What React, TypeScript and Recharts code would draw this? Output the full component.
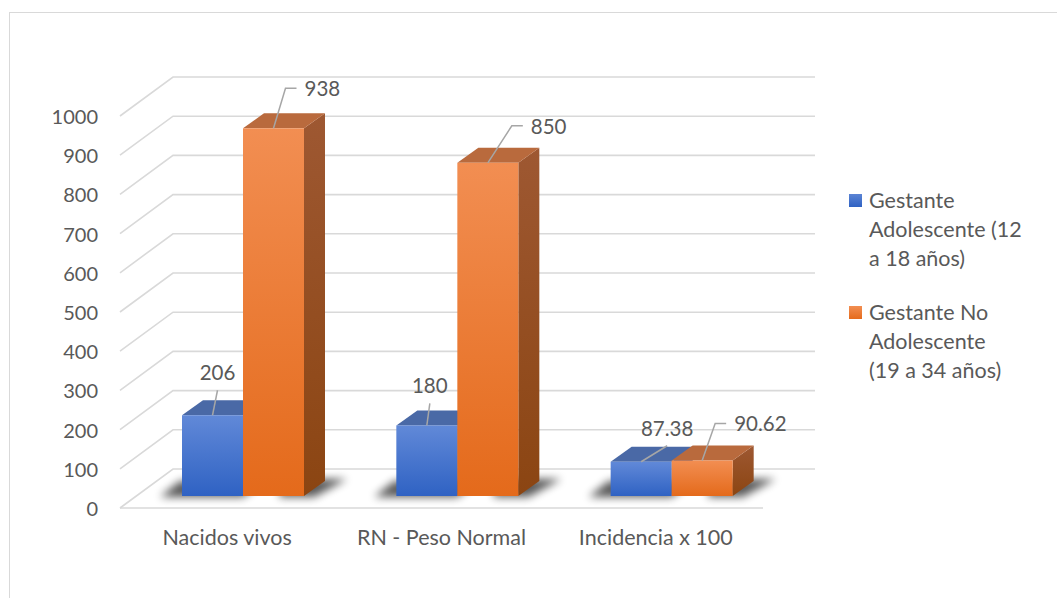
import React from "react";
import { BarChart, Bar, XAxis, YAxis, CartesianGrid, Legend, LabelList } from "recharts";

// Categories and series values
const categories = ["Nacidos vivos", "RN - Peso Normal", "Incidencia x 100"];
const adolescentes = [206, 180, 87.38];
const noAdolescentes = [938, 850, 90.62];
const yTicks = [0, 100, 200, 300, 400, 500, 600, 700, 800, 900, 1000];

const seriesNames = ["Gestante Adolescente (12 a 18 años)", "Gestante No Adolescente (19 a 34 años)"];
const legendLines = [
  ["Gestante", "Adolescente (12", "a 18 años)"],
  ["Gestante No", "Adolescente", "(19 a 34 años)"],
];

const data = categories.map((name, i) => ({
  name,
  adol: adolescentes[i],
  noAdol: noAdolescentes[i],
}));

// 3D look: bars sit a little behind the front plane, the grid wall sits at the back
const FONT = "Lato, 'Noto Sans', sans-serif";
const TEXT = "#595959";
const GRID = "#d9d9d9";
const WALL_DX = 53;
const WALL_DY = -39;
const BAR_DX = 16;
const BAR_DY = -12;
const DEPTH_DX = 21;
const DEPTH_DY = -15;

// callout placements (leader end relative to the top centre of the front face)
const blueCallouts = [
  [5, -25],
  [3, -22],
  [26, -16],
];
const orangeCallouts = [
  [12, -40],
  [24, -37],
  [13, -37],
];

type Palette = { front: string; top: string; side: string };
const BLUE: Palette = { front: "url(#gBlue)", top: "#4a69a6", side: "url(#gBlueSide)" };
const ORANGE: Palette = { front: "url(#gOrange)", top: "#b96a3d", side: "url(#gOrangeSide)" };

function makeShape(p: Palette, kind: "left" | "right") {
  return (props: any) => {
    const { x, y, width, height } = props;
    if (width == null || height == null) return <g />;
    const fx = x + BAR_DX;
    const fy = y + BAR_DY;
    const w = width;
    const h = height;
    const by = fy + h;
    const shadow =
      kind === "left"
        ? `${fx - 22},${by + 1} ${fx + w},${by + 1} ${fx + w + DEPTH_DX},${by + DEPTH_DY} ${fx - 2},${by + DEPTH_DY}`
        : `${fx + w * 0.6},${by + 1} ${fx + w + 10},${by + 1} ${fx + w + DEPTH_DX + 22},${by + DEPTH_DY - 2} ${fx + w * 0.6},${by + DEPTH_DY - 2}`;
    return (
      <g>
        <polygon points={shadow} fill="#000" opacity={0.65} filter="url(#shadowBlur)" />
        <polygon
          points={`${fx + w},${fy} ${fx + w + DEPTH_DX},${fy + DEPTH_DY} ${fx + w + DEPTH_DX},${by + DEPTH_DY} ${fx + w},${by}`}
          fill={p.side}
        />
        <polygon
          points={`${fx},${fy} ${fx + w},${fy} ${fx + w + DEPTH_DX},${fy + DEPTH_DY} ${fx + DEPTH_DX},${fy + DEPTH_DY}`}
          fill={p.top}
        />
        <rect x={fx} y={fy} width={w} height={h} fill={p.front} />
      </g>
    );
  };
}

function readBox(props: any) {
  const vb = props.viewBox || {};
  return {
    x: props.x ?? vb.x,
    y: props.y ?? vb.y,
    width: props.width ?? vb.width,
  };
}

const fmt = (v: number) => (Number.isInteger(v) ? String(v) : v.toFixed(2));

function blueLabel(props: any) {
  const { x, y, width } = readBox(props);
  const i = props.index ?? 0;
  const [ox, oy] = blueCallouts[i] || [5, -25];
  const sx = x + BAR_DX + width / 2;
  const sy = y + BAR_DY;
  const ex = sx + ox;
  const ey = sy + oy;
  return (
    <g>
      <line x1={sx} y1={sy} x2={ex} y2={ey} stroke="#a6a6a6" strokeWidth={1.5} />
      <text x={ex} y={ey - 18} textAnchor="middle" dominantBaseline="central" fontFamily={FONT} fontSize={20.5} fill={TEXT}>
        {fmt(props.value)}
      </text>
    </g>
  );
}

function orangeLabel(props: any) {
  const { x, y, width } = readBox(props);
  const i = props.index ?? 0;
  const [ox, oy] = orangeCallouts[i] || [12, -40];
  const sx = x + BAR_DX + width / 2;
  const sy = y + BAR_DY;
  const ex = sx + ox;
  const ey = sy + oy;
  return (
    <g>
      <polyline points={`${sx},${sy} ${ex},${ey} ${ex + 11},${ey}`} fill="none" stroke="#a6a6a6" strokeWidth={1.5} />
      <text x={ex + 19} y={ey} textAnchor="start" dominantBaseline="central" fontFamily={FONT} fontSize={20.5} fill={TEXT}>
        {fmt(props.value)}
      </text>
    </g>
  );
}

// Each gridline runs diagonally from the front plane to the back wall, then across it
function wallLine(props: any) {
  const { x1, y1, x2 } = props;
  return (
    <path
      key={props.key ?? `g-${y1}`}
      d={`M${x1},${y1} L${x1 + WALL_DX},${y1 + WALL_DY} L${x2 + WALL_DX - 1},${y1 + WALL_DY}`}
      fill="none"
      stroke={GRID}
      strokeWidth={1.6}
    />
  );
}

function YTick(props: any) {
  const { x, y, payload } = props;
  return (
    <text x={x} y={y} textAnchor="end" dominantBaseline="central" fontFamily={FONT} fontSize={20} fill={TEXT}>
      {payload.value}
    </text>
  );
}

function XTick(props: any) {
  const { x, y, payload } = props;
  return (
    <text x={x} y={y} textAnchor="middle" dominantBaseline="central" fontFamily={FONT} fontSize={21.5} fill={TEXT}>
      {payload.value}
    </text>
  );
}

function LegendBox() {
  const colors = ["linear-gradient(#5b84d4,#2f62c3)", "linear-gradient(#f28e52,#e56b1c)"];
  return (
    <div style={{ fontFamily: FONT, fontSize: 21.5, color: TEXT, lineHeight: "29px", textAlign: "left" }}>
      {legendLines.map((lines, i) => (
        <div key={seriesNames[i]} style={{ position: "relative", paddingLeft: 20, marginBottom: i === 0 ? 25 : 0 }}>
          <div
            style={{ position: "absolute", left: 0, top: 8, width: 13, height: 13, background: colors[i] }}
          />
          {lines.map((l) => (
            <div key={l} style={{ whiteSpace: "nowrap" }}>
              {l}
            </div>
          ))}
        </div>
      ))}
    </div>
  );
}

export default function App() {
  return (
    <div style={{ position: "absolute", left: 0, top: 0, width: 1057, height: 598, overflow: "hidden", background: "#fff" }}>
      <div
        style={{
          position: "absolute",
          left: 9,
          top: 12,
          width: 1200,
          height: 800,
          border: `1.5px solid ${GRID}`,
          boxSizing: "border-box",
        }}
      />
      <div style={{ position: "absolute", left: 0, top: 0 }}>
        <BarChart
          width={1057}
          height={598}
          data={data}
          margin={{ top: 116, right: 294, bottom: 0, left: 0 }}
          barGap={0}
        >
          <defs>
            <linearGradient id="gBlue" x1="0" y1="0" x2="0" y2="1">
              <stop offset="0%" stopColor="#6189d8" />
              <stop offset="100%" stopColor="#2f62c3" />
            </linearGradient>
            <linearGradient id="gBlueSide" x1="0" y1="0" x2="0" y2="1">
              <stop offset="0%" stopColor="#3d5b98" />
              <stop offset="100%" stopColor="#284a8f" />
            </linearGradient>
            <linearGradient id="gOrange" x1="0" y1="0" x2="0" y2="1">
              <stop offset="0%" stopColor="#f28e52" />
              <stop offset="100%" stopColor="#e46a1b" />
            </linearGradient>
            <linearGradient id="gOrangeSide" x1="0" y1="0" x2="0" y2="1">
              <stop offset="0%" stopColor="#9e5832" />
              <stop offset="100%" stopColor="#8b4512" />
            </linearGradient>
            <filter id="shadowBlur" x="-50%" y="-100%" width="200%" height="300%">
              <feGaussianBlur stdDeviation="4" />
            </filter>
          </defs>
          <CartesianGrid horizontal={wallLine} vertical={false} />
          <XAxis
            dataKey="name"
            height={90}
            axisLine={{ stroke: GRID, strokeWidth: 1.6 }}
            tickLine={false}
            tickSize={0}
            tickMargin={29}
            tick={<XTick />}
            interval={0}
          />
          <YAxis
            width={120}
            domain={[0, 1000]}
            ticks={yTicks}
            axisLine={false}
            tickLine={false}
            tickSize={0}
            tickMargin={22}
            tick={<YTick />}
            interval={0}
          />
          <Legend
            layout="vertical"
            align="center"
            verticalAlign="middle"
            wrapperStyle={{ left: 849, top: 186, width: 205 }}
            content={<LegendBox />}
          />
          <Bar dataKey="adol" name={seriesNames[0]} barSize={61} isAnimationActive={false} shape={makeShape(BLUE, "left")}>
            <LabelList dataKey="adol" content={blueLabel} />
          </Bar>
          <Bar dataKey="noAdol" name={seriesNames[1]} barSize={61} isAnimationActive={false} shape={makeShape(ORANGE, "right")}>
            <LabelList dataKey="noAdol" content={orangeLabel} />
          </Bar>
        </BarChart>
      </div>
    </div>
  );
}
